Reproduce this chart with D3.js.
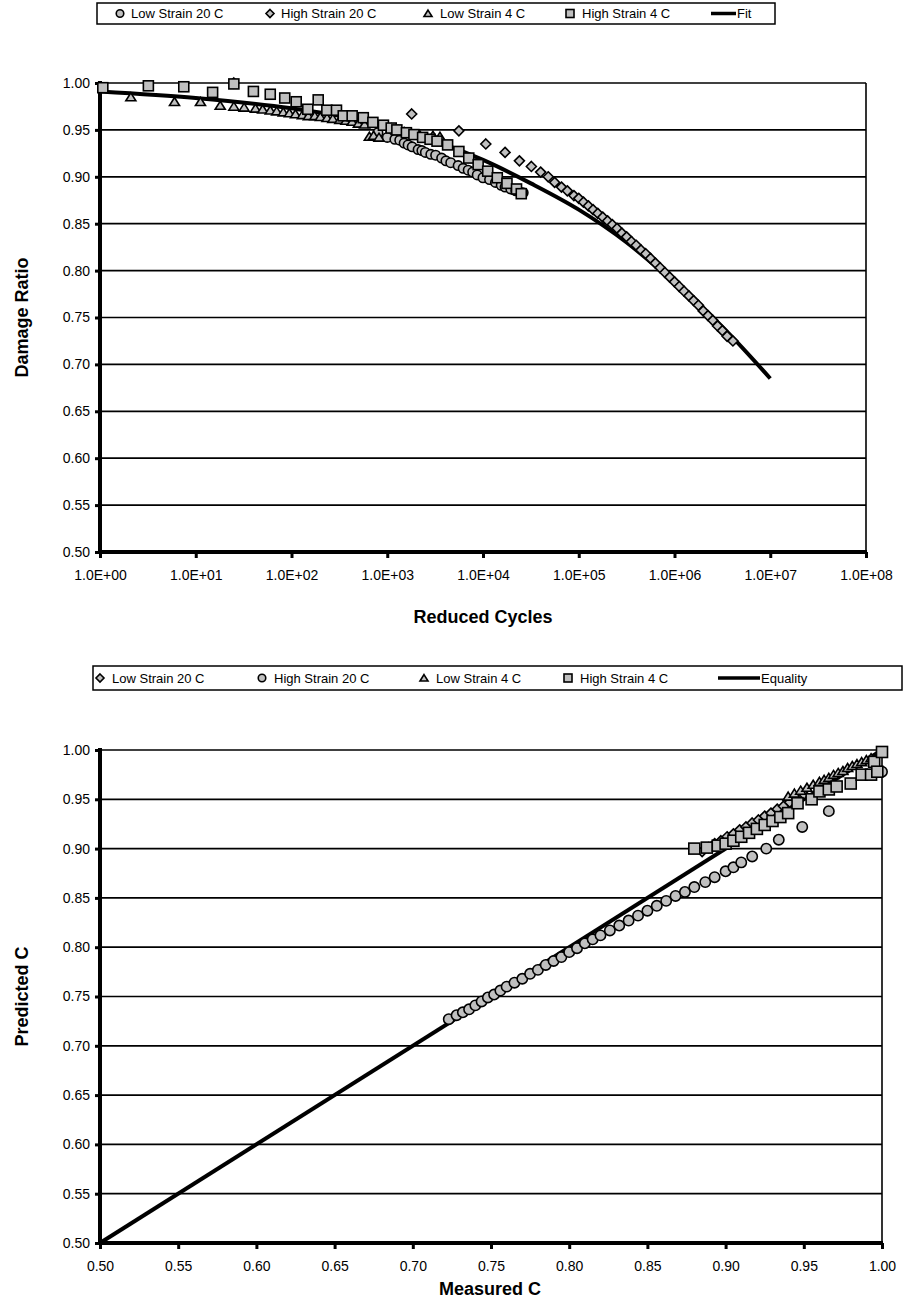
<!DOCTYPE html>
<html><head><meta charset="utf-8">
<script src="https://cdn.jsdelivr.net/npm/d3@7"></script>
<style>body{margin:0;background:#fff}svg{display:block}text{font-family:"Liberation Sans",Arial,sans-serif;fill:#000}</style>
</head><body><svg id="c" width="904" height="1302"></svg>
<script>
// ---------- Chart 1 data (Reduced Cycles vs Damage Ratio) ----------
const topLegend = ["Low Strain 20 C","High Strain 20 C","Low Strain 4 C","High Strain 4 C","Fit"];
const xTicksTop = [1,10,100,1e3,1e4,1e5,1e6,1e7,1e8];
const xTickLabelsTop = ["1.0E+00","1.0E+01","1.0E+02","1.0E+03","1.0E+04","1.0E+05","1.0E+06","1.0E+07","1.0E+08"];
const yTicks = [0.50,0.55,0.60,0.65,0.70,0.75,0.80,0.85,0.90,0.95,1.00];

const ls20N = [800,1000,1200,1350,1500,1650,1820,2100,2300,2500,2850,3200,3700,4100,4600,5500,6200,7000,7800,8700,10000,11700,13500,15500,17000,19500,22000,24000,26300];
const ls20C = [0.947,0.942,0.940,0.939,0.936,0.934,0.932,0.929,0.928,0.926,0.924,0.923,0.920,0.917,0.915,0.912,0.909,0.907,0.905,0.902,0.899,0.897,0.894,0.891,0.889,0.887,0.885,0.884,0.883];

const hs20N = [25,1800,5600,10700,17000,24000,32000,40000,48000,56000,66000,76000,89000,100000,112000,126000,141000,158000,178000,200000,224000,251000,282000,316000,355000,398000,447000,501000,562000,631000,708000,794000,891000,1000000,1122000,1259000,1413000,1585000,1778000,1995000,2239000,2512000,2818000,3162000,3548000,4074000];
const hs20C = [1.000,0.967,0.949,0.935,0.926,0.917,0.911,0.905,0.900,0.894,0.889,0.885,0.880,0.877,0.873,0.869,0.865,0.861,0.857,0.853,0.849,0.845,0.840,0.836,0.831,0.827,0.822,0.818,0.813,0.808,0.803,0.798,0.793,0.788,0.783,0.778,0.773,0.768,0.763,0.757,0.752,0.747,0.741,0.736,0.730,0.725];

const ls4N = [2.1,6,11.2,18,25,32,42,50,60,70,82,95,110,130,150,175,200,235,270,320,370,430,500,580,650,720,820,950,1100,1300,1500,1800,2200,2600,3000,3550];
const ls4C = [0.985,0.980,0.980,0.976,0.975,0.974,0.973,0.972,0.971,0.970,0.969,0.968,0.967,0.966,0.965,0.965,0.964,0.963,0.962,0.961,0.960,0.959,0.957,0.956,0.943,0.944,0.942,0.954,0.952,0.950,0.948,0.946,0.944,0.942,0.944,0.943];

const hs4N = [1.07,3.2,7.5,15,25,40,60,85,112,148,190,234,295,347,430,562,708,912,1100,1260,1585,1900,2340,2800,3310,4270,5600,7100,8900,11200,14100,17800,22400,25100];
const hs4C = [0.995,0.997,0.996,0.990,0.999,0.991,0.988,0.984,0.980,0.972,0.982,0.971,0.971,0.965,0.965,0.963,0.958,0.955,0.952,0.950,0.947,0.945,0.942,0.940,0.938,0.934,0.927,0.920,0.913,0.906,0.899,0.893,0.887,0.882];

const fitN = [1,10,100,316,1000,3162,10000,31623,100000,316228,1000000,3162278,10000000];
const fitC = [0.991,0.984,0.973,0.965,0.953,0.938,0.918,0.893,0.865,0.830,0.787,0.740,0.685];

// ---------- Chart 2 data (Measured C vs Predicted C) ----------
const botLegend = ["Low Strain 20 C","High Strain 20 C","Low Strain 4 C","High Strain 4 C","Equality"];
const xTicksBot = [0.50,0.55,0.60,0.65,0.70,0.75,0.80,0.85,0.90,0.95,1.00];

const bLs20M = [0.885,0.889,0.893,0.897,0.901,0.905,0.909,0.913,0.917,0.921,0.925,0.929,0.933,0.937,0.941,0.945,0.950];
const bLs20P = [0.897,0.901,0.905,0.908,0.912,0.915,0.919,0.922,0.926,0.929,0.933,0.936,0.940,0.943,0.947,0.950,0.955];

const bHs20M = [0.723,0.728,0.732,0.736,0.740,0.744,0.748,0.752,0.756,0.760,0.765,0.770,0.775,0.780,0.785,0.790,0.795,0.800,0.805,0.810,0.815,0.820,0.826,0.832,0.838,0.844,0.850,0.856,0.862,0.868,0.874,0.880,0.887,0.893,0.900,0.905,0.910,0.917,0.926,0.934,0.949,0.966,1.000];
const bHs20P = [0.727,0.731,0.734,0.737,0.741,0.745,0.749,0.752,0.756,0.760,0.764,0.768,0.773,0.777,0.782,0.786,0.790,0.795,0.799,0.804,0.808,0.812,0.817,0.822,0.827,0.832,0.837,0.842,0.847,0.852,0.856,0.861,0.866,0.871,0.877,0.881,0.886,0.892,0.900,0.909,0.922,0.938,0.978];

const bLs4M = [0.940,0.944,0.948,0.952,0.956,0.960,0.963,0.966,0.969,0.972,0.975,0.978,0.981,0.984,0.987,0.990,0.993];
const bLs4P = [0.953,0.956,0.959,0.962,0.965,0.968,0.970,0.972,0.975,0.977,0.979,0.982,0.984,0.986,0.988,0.990,0.992];

const bHs4M = [0.880,0.888,0.895,0.900,0.905,0.910,0.915,0.920,0.925,0.930,0.935,0.940,0.946,0.955,0.960,0.966,0.971,0.980,0.987,0.993,0.995,0.997,1.000];
const bHs4P = [0.900,0.901,0.903,0.905,0.908,0.912,0.916,0.920,0.924,0.928,0.932,0.936,0.946,0.950,0.958,0.960,0.963,0.966,0.975,0.975,0.988,0.978,0.998];

const eqM = [0.5,1.0];
const eqP = [0.5,1.0];

// ---------- drawing ----------
const svg = d3.select("#c");
const FILL = "#c0c0c0";
const F = '"Liberation Sans", Arial, sans-serif';
const TITLE = 18;

function marker(g, type, x, y, s) {
  let p;
  if (type === "circle") p = g.append("circle").attr("cx", x).attr("cy", y).attr("r", s*0.47);
  else if (type === "square") p = g.append("rect").attr("x", x - s/2).attr("y", y - s/2).attr("width", s).attr("height", s);
  else if (type === "diamond") { const h = s*0.5; p = g.append("path").attr("d", `M${x},${y-h}L${x+h},${y}L${x},${y+h}L${x-h},${y}Z`); }
  else if (type === "triangle") { const h = s*0.5; p = g.append("path").attr("d", `M${x},${y-h*0.85}L${x+h},${y+h*0.75}L${x-h},${y+h*0.75}Z`); }
  p.attr("fill", FILL).attr("stroke", "#000").attr("stroke-width", 1.6);
}

function legend(g, x0, y0, x1, y1, items) {
  g.append("rect").attr("x", x0).attr("y", y0).attr("width", x1 - x0).attr("height", y1 - y0)
    .attr("fill", "#fff").attr("stroke", "#000").attr("stroke-width", 1.5);
  const cy = (y0 + y1) / 2;
  items.forEach(it => {
    if (it.type === "line") {
      g.append("line").attr("x1", it.mx).attr("x2", it.mx2).attr("y1", cy).attr("y2", cy).attr("stroke", "#000").attr("stroke-width", 3.5);
    } else marker(g, it.type, it.mx, cy, 8);
    g.append("text").attr("x", it.tx).attr("y", cy + 4.5).attr("font-size", 13).text(it.label);
  });
}

function yAxis(g, y, left, right) {
  yTicks.forEach(v => {
    if (v > 0.5) g.append("line").attr("x1", left).attr("x2", right).attr("y1", y(v)).attr("y2", y(v)).attr("stroke", "#000").attr("stroke-width", 1.7);
  });
  const ax = g.append("g").attr("transform", `translate(${left},0)`)
    .call(d3.axisLeft(y).tickValues(yTicks).tickFormat(d3.format(".2f")).tickSize(5).tickPadding(5));
  ax.select(".domain").remove();
  ax.selectAll(".tick line").attr("stroke", "#000").attr("stroke-width", 3);
  ax.selectAll(".tick text").attr("font-size", 14).attr("font-family", F).attr("fill", "#000");
}

// ===== Chart 1 =====
(function(){
  const L = 100, R = 866, T = 83, B = 552;
  const x = d3.scaleLog().domain([1, 1e8]).range([L, R]);
  const y = d3.scaleLinear().domain([0.5, 1.0]).range([B, T]);
  const g = svg.append("g");
  legend(g, 97, 3, 775, 24, [
    {type:"circle", mx:120, tx:131, label:topLegend[0]},
    {type:"diamond", mx:270, tx:281, label:topLegend[1]},
    {type:"triangle", mx:428, tx:440, label:topLegend[2]},
    {type:"square", mx:570, tx:582, label:topLegend[3]},
    {type:"line", mx:711, mx2:736, tx:737, label:topLegend[4]}
  ]);
  yAxis(g, y, L, R);
  g.append("line").attr("x1", R).attr("x2", R).attr("y1", T).attr("y2", B).attr("stroke", "#000").attr("stroke-width", 1.6);
  const xa = g.append("g").attr("transform", `translate(0,${B})`)
    .call(d3.axisBottom(x).tickValues(xTicksTop).tickFormat((d,i) => xTickLabelsTop[i]).tickSize(6).tickPadding(12));
  xa.select(".domain").remove();
  xa.selectAll(".tick line").attr("stroke", "#000").attr("stroke-width", 3);
  xa.selectAll(".tick text").attr("font-size", 14).attr("font-family", F).attr("fill", "#000");
  g.append("line").attr("x1", L).attr("x2", L).attr("y1", T - 2).attr("y2", B + 2).attr("stroke", "#000").attr("stroke-width", 4);
  g.append("line").attr("x1", L - 2).attr("x2", R + 1).attr("y1", B).attr("y2", B).attr("stroke", "#000").attr("stroke-width", 4);

  const line = d3.line().x((d,i) => x(fitN[i])).y((d,i) => y(fitC[i])).curve(d3.curveMonotoneX);
  g.append("path").attr("d", line(fitN)).attr("fill", "none").attr("stroke", "#000").attr("stroke-width", 4);

  const series = [
    {n: ls20N, c: ls20C, t: "circle", s: 10},
    {n: hs20N, c: hs20C, t: "diamond", s: 10},
    {n: ls4N, c: ls4C, t: "triangle", s: 10},
    {n: hs4N, c: hs4C, t: "square", s: 10}
  ];
  series.forEach(se => se.n.forEach((v, i) => marker(g, se.t, x(v), y(se.c[i]), se.s)));

  g.append("text").attr("x", 483).attr("y", 623).attr("text-anchor", "middle").attr("font-size", TITLE).attr("font-weight", "bold").text("Reduced Cycles");
  g.append("text").attr("transform", `translate(28,${(T + B) / 2}) rotate(-90)`).attr("text-anchor", "middle").attr("font-size", TITLE).attr("font-weight", "bold").text("Damage Ratio");
})();

// ===== Chart 2 =====
(function(){
  const L = 100, R = 882, T = 750, B = 1243;
  const x = d3.scaleLinear().domain([0.5, 1.0]).range([L, R]);
  const y = d3.scaleLinear().domain([0.5, 1.0]).range([B, T]);
  const g = svg.append("g");
  legend(g, 93, 666, 902, 690, [
    {type:"diamond", mx:100, tx:112, label:botLegend[0]},
    {type:"circle", mx:262, tx:274, label:botLegend[1]},
    {type:"triangle", mx:424, tx:436, label:botLegend[2]},
    {type:"square", mx:568, tx:580, label:botLegend[3]},
    {type:"line", mx:718, mx2:760, tx:761, label:botLegend[4]}
  ]);
  yAxis(g, y, L, R);
  g.append("line").attr("x1", R).attr("x2", R).attr("y1", T).attr("y2", B).attr("stroke", "#000").attr("stroke-width", 1.6);
  const xa = g.append("g").attr("transform", `translate(0,${B})`)
    .call(d3.axisBottom(x).tickValues(xTicksBot).tickFormat(d3.format(".2f")).tickSize(6).tickPadding(12));
  xa.select(".domain").remove();
  xa.selectAll(".tick line").attr("stroke", "#000").attr("stroke-width", 3);
  xa.selectAll(".tick text").attr("font-size", 14).attr("font-family", F).attr("fill", "#000");
  g.append("line").attr("x1", L).attr("x2", L).attr("y1", T - 2).attr("y2", B + 2).attr("stroke", "#000").attr("stroke-width", 4);
  g.append("line").attr("x1", L - 2).attr("x2", R + 1).attr("y1", B).attr("y2", B).attr("stroke", "#000").attr("stroke-width", 4);

  g.append("line").attr("x1", x(eqM[0])).attr("y1", y(eqP[0])).attr("x2", x(eqM[1])).attr("y2", y(eqP[1]))
    .attr("stroke", "#000").attr("stroke-width", 4);

  const series = [
    {m: bLs20M, p: bLs20P, t: "diamond", s: 10},
    {m: bHs20M, p: bHs20P, t: "circle", s: 11},
    {m: bLs4M, p: bLs4P, t: "triangle", s: 10},
    {m: bHs4M, p: bHs4P, t: "square", s: 11}
  ];
  series.forEach(se => se.m.forEach((v, i) => marker(g, se.t, x(v), y(se.p[i]), se.s)));

  g.append("text").attr("x", 490).attr("y", 1295).attr("text-anchor", "middle").attr("font-size", TITLE).attr("font-weight", "bold").text("Measured C");
  g.append("text").attr("transform", `translate(28,${(T + B) / 2}) rotate(-90)`).attr("text-anchor", "middle").attr("font-size", TITLE).attr("font-weight", "bold").text("Predicted C");
})();
</script></body></html>
